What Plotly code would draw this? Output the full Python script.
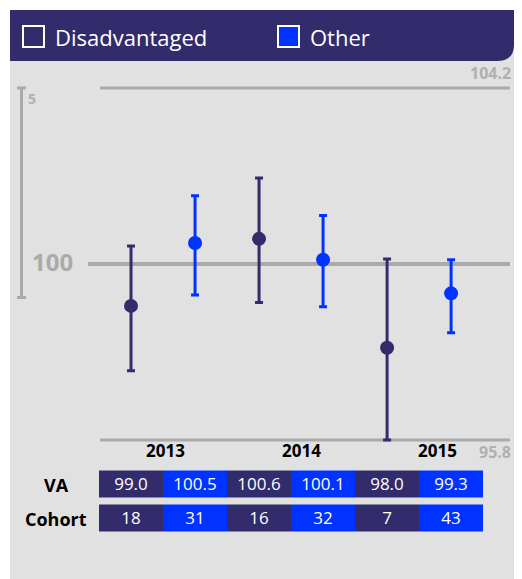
import plotly.graph_objects as go

# data
years = [2013, 2014, 2015]
groups = ['Disadvantaged', 'Other']
disadv_va = [99.0, 100.6, 98.0]
disadv_lower = [97.45, 99.08, 95.8]
disadv_upper = [100.43, 102.05, 100.12]
other_va = [100.5, 100.1, 99.3]
other_lower = [99.26, 98.98, 98.36]
other_upper = [101.63, 101.16, 100.1]
disadv_cohort = [18, 16, 7]
other_cohort = [31, 32, 43]
y_min, y_max, y_ref = 95.8, 104.2, 100
scale_span = 5

NAVY = '#322b6c'
BLUE = '#0033ff'
GRAY = '#aaaaaa'
LABEL_GRAY = '#b0b0b0'
BG = '#e1e1e1'
FONT = 'Open Sans'

OFF = 8  # page body margin
W, H = 522 - OFF, 579 - OFF
RIGHT = 522 - OFF  # last visible pixel column of the page body
ML = 88 - OFF
MR = W - (510 - OFF)


def px_x(p):
  return (p - OFF - ML) / (W - ML - MR)


def px_y(p):
  return 1 - (p - OFF) / H


cats_d = ['%d %s' % (y, groups[0]) for y in years]
cats_o = ['%d %s' % (y, groups[1]) for y in years]
cats = [c for pair in zip(cats_d, cats_o) for c in pair]

fig = go.Figure()

for name, cat, va, lo, up, col in [(groups[0], cats_d, disadv_va, disadv_lower, disadv_upper, NAVY),
                                   (groups[1], cats_o, other_va, other_lower, other_upper, BLUE)]:
  fig.add_trace(go.Scatter(
      x=cat, y=va, mode='markers', name=name, showlegend=False,
      marker=dict(color=col, size=14),
      error_y=dict(type='data', symmetric=False,
                   array=[u - v for u, v in zip(up, va)],
                   arrayminus=[v - l for l, v in zip(lo, va)],
                   color=col, thickness=3, width=4),
      xaxis='x', yaxis='y'))

# table rows as a heatmap sharing the category axis
va_text = []
co_text = []
z_row = []
for i in range(len(years)):
  va_text += ['%.1f' % disadv_va[i], '%.1f' % other_va[i]]
  co_text += [str(disadv_cohort[i]), str(other_cohort[i])]
  z_row += [0, 1]
fig.add_trace(go.Heatmap(
    x=cats, y=['Cohort', 'VA'], z=[z_row, z_row], text=[co_text, va_text],
    texttemplate='%{text}', textfont=dict(color='white', size=17, family=FONT),
    colorscale=[[0, NAVY], [1, BLUE]], showscale=False, ygap=7, xgap=0,
    hoverinfo='skip', xaxis='x', yaxis='y2'))

# invisible trace for year axis
fig.add_trace(go.Scatter(x=years, y=[None] * len(years), xaxis='x2', yaxis='y',
                         showlegend=False, hoverinfo='skip'))

shapes = [
    dict(type='rect', xref='paper', yref='paper', x0=px_x(10), x1=px_x(RIGHT), y0=px_y(H + OFF), y1=px_y(10),
         fillcolor=BG, line_width=0, layer='below'),
    dict(type='path', xref='paper', yref='paper',
         path='M %f,%f L %f,%f L %f,%f Q %f,%f %f,%f L %f,%f Z' % (
             px_x(10), px_y(10), px_x(RIGHT), px_y(10), px_x(RIGHT), px_y(45),
             px_x(RIGHT), px_y(61), px_x(RIGHT - 17), px_y(61), px_x(10), px_y(61)),
         fillcolor=NAVY, line_width=0),
    dict(type='rect', xref='paper', yref='paper', x0=px_x(23), x1=px_x(44), y0=px_y(47), y1=px_y(26),
         fillcolor=NAVY, line=dict(color='white', width=2)),
    dict(type='rect', xref='paper', yref='paper', x0=px_x(278), x1=px_x(299), y0=px_y(47), y1=px_y(26),
         fillcolor=BLUE, line=dict(color='white', width=2)),
    dict(type='line', xref='x domain', yref='y', x0=px_x(100), x1=1, y0=y_max, y1=y_max,
         line=dict(color=GRAY, width=3), layer='below'),
    dict(type='line', xref='x domain', yref='y', x0=px_x(100), x1=1, y0=y_min, y1=y_min,
         line=dict(color=GRAY, width=3), layer='below'),
    dict(type='line', xref='x domain', yref='y', x0=0, x1=1, y0=y_ref, y1=y_ref,
         line=dict(color=GRAY, width=4), layer='below'),
    # scale bar
    dict(type='line', xref='paper', yref='y', x0=px_x(21.5), x1=px_x(21.5), y0=y_max, y1=y_max - scale_span,
         line=dict(color=GRAY, width=3)),
    dict(type='line', xref='paper', yref='y', x0=px_x(17), x1=px_x(26), y0=y_max, y1=y_max,
         line=dict(color=GRAY, width=3)),
    dict(type='line', xref='paper', yref='y', x0=px_x(17), x1=px_x(26), y0=y_max - scale_span, y1=y_max - scale_span,
         line=dict(color=GRAY, width=3)),
]

annotations = [
    dict(text='Disadvantaged', xref='paper', yref='paper', x=px_x(53), y=px_y(37), xanchor='left',
         yanchor='middle', showarrow=False, font=dict(color='white', size=22, family=FONT)),
    dict(text='Other', xref='paper', yref='paper', x=px_x(308), y=px_y(37), xanchor='left',
         yanchor='middle', showarrow=False, font=dict(color='white', size=22, family=FONT)),
    dict(text='<b>%.1f</b>' % y_max, xref='paper', yref='y', x=px_x(RIGHT - 1), y=y_max, yshift=15,
         xanchor='right', yanchor='middle', showarrow=False, font=dict(color=LABEL_GRAY, size=16, family=FONT)),
    dict(text='<b>%.1f</b>' % y_min, xref='paper', yref='y', x=px_x(RIGHT - 1), y=y_min, yshift=-12,
         xanchor='right', yanchor='middle', showarrow=False, font=dict(color=LABEL_GRAY, size=16, family=FONT)),
    dict(text='<b>%d</b>' % scale_span, xref='paper', yref='y', x=px_x(26), y=y_max, yshift=-11,
         xanchor='left', yanchor='middle', showarrow=False, font=dict(color=LABEL_GRAY, size=14, family=FONT)),
    dict(text='<b>%d</b>' % y_ref, xref='paper', yref='y', x=px_x(30), y=y_ref, yshift=2,
         xanchor='left', yanchor='middle', showarrow=False, font=dict(color=GRAY, size=24, family=FONT)),
    dict(text='<b>VA</b>', xref='paper', yref='y2', x=px_x(56), y='VA', xanchor='center',
         yanchor='middle', showarrow=False, font=dict(color='black', size=18, family=FONT)),
    dict(text='<b>Cohort</b>', xref='paper', yref='y2', x=px_x(56), y='Cohort', xanchor='center',
         yanchor='middle', showarrow=False, font=dict(color='black', size=18, family=FONT)),
]
for yr in years:
  annotations.append(dict(text='<b>%d</b>' % yr, xref='x2', yref='y', x=yr, y=y_min, yshift=-10,
                          xanchor='center', yanchor='middle', showarrow=False,
                          font=dict(color='black', size=17, family=FONT)))

fig.update_layout(
    width=W, height=H,
    margin=dict(l=ML, r=MR, t=0, b=0, autoexpand=False),
    paper_bgcolor='white', plot_bgcolor='rgba(0,0,0,0)',
    font=dict(family=FONT),
    showlegend=False,
    shapes=shapes, annotations=annotations,
    xaxis=dict(type='category', categoryorder='array', categoryarray=cats,
               range=[-0.672, 5.92], visible=False, anchor='y'),
    xaxis2=dict(overlaying='x', range=[2012.43, 2015.533], visible=False, anchor='y'),
    yaxis=dict(range=[y_min - 0.1, y_max + 0.1], domain=[px_y(444.2), px_y(83.8)], visible=False),
    yaxis2=dict(type='category', categoryorder='array', categoryarray=['Cohort', 'VA'],
                domain=[px_y(535.5), px_y(467.5)], visible=False, anchor='x'),
)

fig.write_html('out.html')
